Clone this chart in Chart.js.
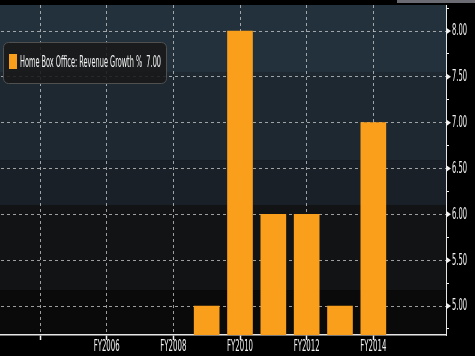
<!DOCTYPE html>
<html><head><meta charset="utf-8">
<script src="https://cdn.jsdelivr.net/npm/chart.js@4/dist/chart.umd.min.js"></script>
<style>html,body{margin:0;padding:0;background:#000;overflow:hidden}#wrap{width:475px;height:356px}</style>
</head><body><div id="wrap"><canvas id="c" width="475" height="356"></canvas></div>
<script>
// ---- data ----
const seriesName = 'Home Box Office: Revenue Growth %';
const fiscalYears = [2009, 2010, 2011, 2012, 2013, 2014];
const revenueGrowth = [5.00, 8.00, 6.00, 6.00, 5.00, 7.00];
const xTickYears = [2004, 2006, 2008, 2010, 2012, 2014];
const xTickLabels = ['', 'FY2006', 'FY2008', 'FY2010', 'FY2012', 'FY2014'];
const yMajorTicks = [5.00, 5.50, 6.00, 6.50, 7.00, 7.50, 8.00];
const yTickLabels = ['5.00', '5.50', '6.00', '6.50', '7.00', '7.50', '8.00'];
const yMinorTicks = [4.75, 5.25, 5.75, 6.25, 6.75, 7.25, 7.75, 8.25];

// ---- style ----
const ORANGE = '#fa9f1b';
const GRID = 'rgba(205,205,205,0.75)';
const FONT = '15px "Liberation Sans Narrow", "DejaVu Sans Condensed", sans-serif';
const bands = [ // fraction of plot height, colour
  [0.00, 0.203, '#22313b'],
  [0.203, 0.470, '#1d2831'],
  [0.470, 0.606, '#192027'],
  [0.606, 0.864, '#121315'],
  [0.864, 1.00, '#0a0a0a']
];

function isMajor(v){ return yMajorTicks.some(m => Math.abs(m - v) < 1e-6); }

function condensed(ctx, text, x, y, targetRefText, targetWidth, align){
  ctx.save();
  ctx.font = FONT;
  const sx = targetWidth / ctx.measureText(targetRefText).width;
  ctx.translate(x, y);
  ctx.scale(sx, 1);
  ctx.textAlign = align;
  ctx.textBaseline = 'middle';
  ctx.fillStyle = '#f2f2f2';
  ctx.fillText(text, 0, 0);
  ctx.restore();
}

const deco = {
  id: 'deco',
  beforeDraw(chart){
    const {ctx, chartArea: a, width, height} = chart;
    ctx.save();
    ctx.fillStyle = '#000';
    ctx.fillRect(0, 0, width, height);
    const h = a.bottom - a.top;
    bands.forEach(([f0, f1, c]) => {
      ctx.fillStyle = c;
      ctx.fillRect(0, a.top + f0 * h, a.right, (f1 - f0) * h + 0.5);
    });
    ctx.fillStyle = '#6b6b73';
    ctx.fillRect(397, 0, width - 397, 3);
    ctx.restore();
  },
  afterDraw(chart){
    const {ctx, chartArea: a} = chart;
    const ys = chart.scales.y, xs = chart.scales.x;
    ctx.save();
    // y-axis markers and labels
    yMajorTicks.forEach((v, i) => {
      const py = ys.getPixelForValue(v);
      ctx.fillStyle = '#f2f2f2';
      ctx.beginPath();
      ctx.moveTo(a.right, py - 3.5);
      ctx.lineTo(a.right + 5, py);
      ctx.lineTo(a.right, py + 3.5);
      ctx.closePath();
      ctx.fill();
      condensed(ctx, yTickLabels[i], a.right + 6, py + 0.5, '8.00', 15, 'left');
    });
    // x labels
    xTickYears.forEach((v, i) => {
      if (!xTickLabels[i]) return;
      const px = xs.getPixelForValue(v);
      condensed(ctx, xTickLabels[i], px, a.bottom + 12, 'FY2010', 26, 'center');
    });
    // legend
    const ds = chart.data.datasets[0];
    const last = ds.data[ds.data.length - 1].y;
    ctx.fillStyle = 'rgba(24,24,24,0.88)';
    ctx.strokeStyle = '#505050';
    ctx.lineWidth = 1;
    ctx.beginPath();
    ctx.roundRect(3.5, 42.5, 163, 41, 5);
    ctx.fill();
    ctx.stroke();
    ctx.fillStyle = ds.backgroundColor;
    ctx.fillRect(9, 54, 8, 15);
    const txt = ds.label + '  ' + last.toFixed(2);
    condensed(ctx, txt, 20, 63.5, txt, 141, 'left');
    ctx.restore();
  }
};

new Chart(document.getElementById('c'), {
  type: 'bar',
  data: {
    datasets: [{
      label: seriesName,
      data: fiscalYears.map((x, i) => ({x: x, y: revenueGrowth[i]})),
      backgroundColor: ORANGE,
      borderWidth: 0,
      barThickness: 25
    }]
  },
  options: {
    responsive: false,
    animation: false,
    devicePixelRatio: 1,
    layout: {padding: {top: 5, left: 1, right: 0, bottom: 0}},
    plugins: {legend: {display: false}, tooltip: {enabled: false}},
    scales: {
      x: {
        type: 'linear',
        position: 'bottom',
        offset: false,
        min: 2002.83,
        max: 2016.18,
        afterBuildTicks: s => { s.ticks = xTickYears.map(v => ({value: v})); },
        afterFit: s => { s.height = 21; },
        ticks: {display: false},
        grid: {offset: false, color: GRID, lineWidth: 1, drawTicks: true, tickLength: 5, tickColor: '#f2f2f2', tickWidth: 1.5},
        border: {display: true, color: '#e6e6e6', width: 1.5, dash: [3, 3]}
      },
      y: {
        type: 'linear',
        position: 'right',
        min: 4.684,
        max: 8.284,
        afterBuildTicks: s => {
          s.ticks = yMajorTicks.concat(yMinorTicks).sort((p, q) => p - q).map(v => ({value: v}));
        },
        afterFit: s => { s.width = 29; },
        ticks: {display: false},
        grid: {
          color: c => isMajor(c.tick.value) ? GRID : 'rgba(0,0,0,0)',
          lineWidth: 1,
          drawTicks: true,
          tickLength: 3,
          tickColor: c => isMajor(c.tick.value) ? 'rgba(0,0,0,0)' : '#f2f2f2'
        },
        border: {display: true, color: '#e6e6e6', width: 1, dash: [3, 3]}
      }
    }
  },
  plugins: [deco]
});
</script>
</body></html>
